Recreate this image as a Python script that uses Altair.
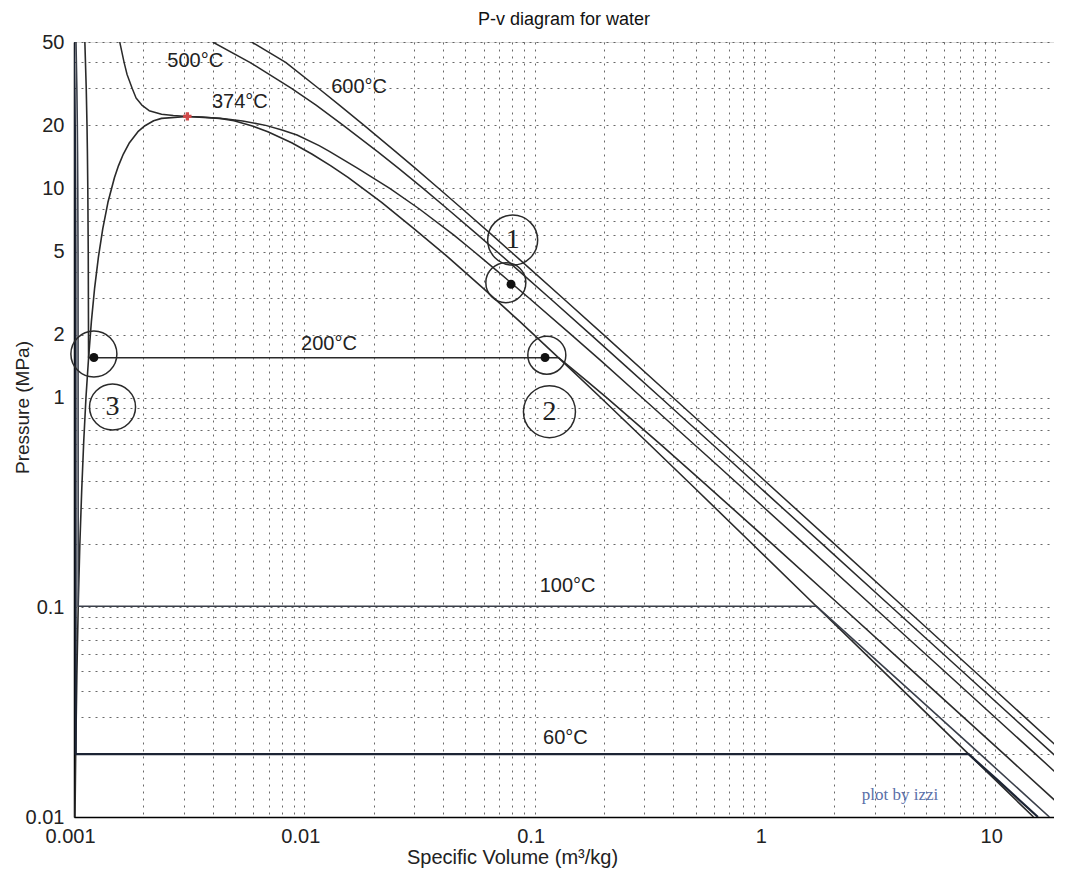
import altair as alt
import pandas as pd

# ---------------- data (steam-table consistent) ----------------
# Saturation dome: pressure (MPa), saturated liquid / vapour specific volume (m3/kg)
sat_T = [45.81, 60, 80, 100, 120, 140, 160, 180, 200, 220, 240, 260, 280, 300,
         320, 330, 340, 350, 360, 365, 370, 372, 373.95]
sat_P = [0.01, 0.019946, 0.047416, 0.10142, 0.19867, 0.36153, 0.61823, 1.0028, 1.5549,
         2.3196, 3.3469, 4.6923, 6.4165, 8.5879, 11.284, 12.858, 14.601, 16.529, 18.666,
         19.8, 21.044, 21.6, 22.064]
sat_vf = [0.00101, 0.001017, 0.001029, 0.001043, 0.00106, 0.00108, 0.001102, 0.001127,
          0.001157, 0.00119, 0.001229, 0.001276, 0.001333, 0.001404, 0.001499, 0.001561,
          0.001638, 0.001741, 0.001895, 0.002016, 0.002217, 0.0024, 0.003106]
sat_vg = [14.67, 7.667, 3.4053, 1.672, 0.89133, 0.50845, 0.30678, 0.19384, 0.12721,
          0.086094, 0.059707, 0.042175, 0.03, 0.021659, 0.01548, 0.012996, 0.010779,
          0.008813, 0.006945, 0.006, 0.004953, 0.0043, 0.003106]

# Isotherms
iso60_P = [50, 30, 20, 15, 10, 5, 0.019946, 0.019946, 0.015, 0.01]
iso60_v = [0.0009962, 0.0010042, 0.0010084, 0.0010105, 0.0010127, 0.0010149, 0.001017,
           7.667, 10.25, 15.33]

iso100_P = [50, 30, 20, 15, 10, 5, 0.10142, 0.10142, 0.05, 0.02, 0.01]
iso100_v = [0.0010201, 0.001029, 0.0010337, 0.0010361, 0.0010385, 0.001041, 0.001043,
            1.672, 3.4187, 8.585, 17.196]

iso200_P = [50, 30, 20, 15, 10, 5, 1.5549, 1.5549, 1.4, 1.2, 1.0, 0.8, 0.6, 0.4, 0.2,
            0.1, 0.05, 0.02, 0.01]
iso200_v = [0.0011146, 0.0011302, 0.0011388, 0.0011433, 0.001148, 0.001153, 0.001157,
            0.12721, 0.14302, 0.1693, 0.206, 0.26088, 0.35212, 0.53434, 1.08049,
            2.17226, 4.3562, 10.9, 21.8]

iso374_P = [50, 40, 35, 30, 27, 25, 23.5, 22.6, 22.3, 22.064, 21.9, 21.5, 21, 20, 19, 18,
            16, 15, 12.5, 10, 8, 6, 5, 4, 3, 2, 1.5, 1, 0.5, 0.2, 0.1, 0.05, 0.02, 0.01]
iso374_v = [0.00158, 0.00165, 0.0017, 0.00179, 0.00186, 0.00197, 0.00212, 0.0024, 0.0027,
            0.003106, 0.0036, 0.0045, 0.0054, 0.0068, 0.008, 0.0093, 0.0116, 0.0129,
            0.017, 0.0235, 0.0315, 0.0445, 0.0545, 0.0695, 0.0945, 0.1445, 0.195, 0.294,
            0.593, 1.488, 2.98, 5.97, 14.93, 29.9]

iso500_P = [50, 40, 30, 25, 20, 15, 12.5, 10, 8, 6, 5, 4, 3, 2, 1.4, 1, 0.5, 0.2, 0.1,
            0.05, 0.02, 0.01]
iso500_v = [0.0040, 0.0058, 0.0088, 0.01125, 0.014768, 0.0208, 0.0256, 0.03279,
            0.04175, 0.05665, 0.06857, 0.08643, 0.11619, 0.17568, 0.2521, 0.3541, 0.7109,
            1.7814, 3.565, 7.134, 17.84, 35.68]

iso600_P = [50, 40, 30, 25, 20, 15, 12.5, 10, 8, 6, 5, 4, 3, 2, 1, 0.5, 0.2, 0.1, 0.05,
            0.02, 0.01]
iso600_v = [0.0059, 0.0083, 0.01155, 0.01420, 0.018185, 0.02491, 0.03029, 0.03837,
            0.04845, 0.06525, 0.07869, 0.09885, 0.13243, 0.1996, 0.4011, 0.8041, 2.013,
            4.028, 8.057, 20.14, 40.29]

# curve labels
lab_text = ["500°C", "600°C", "374°C", "200°C", "100°C", "60°C"]
lab_v = [0.00336, 0.0173, 0.00525, 0.0128, 0.139, 0.136]
lab_P = [40.4, 30.4, 25.8, 1.80, 0.127, 0.0237]

# hand-drawn annotation circles (centre v, P, diameter px)
circ_v = [0.00122, 0.00147, 0.113, 0.116, 0.0803, 0.075]
circ_P = [1.62, 0.905, 1.60, 0.86, 5.67, 3.55]
circ_d = [46, 46, 38, 52, 50, 40]

# hand-drawn dots
dot_v = [0.00122, 0.111, 0.079]
dot_P = [1.56, 1.56, 3.49]

# hand-written numbers
num_text = ["3", "2", "1"]
num_v = [0.00147, 0.116, 0.0803]
num_P = [0.905, 0.86, 5.67]

crit_v = [0.003106]
crit_P = [22.064]

x_label_vals = [0.001, 0.01, 0.1, 1, 10]
y_label_vals = [0.01, 0.1, 1, 2, 5, 10, 20, 50]

# ---------------- tables ----------------
rows = []


def add(name, vs, ps, col, w):
    for i, (v, p) in enumerate(zip(vs, ps)):
        rows.append(dict(series=name, i=i, v=v, P=p, col=col, w=w))


add("dome", sat_vf + sat_vg[::-1][1:], sat_P + sat_P[::-1][1:], "#2a2a2a", 1.6)
add("T60", iso60_v, iso60_P, "#1c2434", 2.2)
add("T100", iso100_v, iso100_P, "#3a3f4a", 1.6)
add("T200", iso200_v, iso200_P, "#2a2a2a", 1.6)
add("T374", iso374_v, iso374_P, "#2a2a2a", 1.5)
add("T500", iso500_v, iso500_P, "#2a2a2a", 1.5)
add("T600", iso600_v, iso600_P, "#2a2a2a", 1.5)
lines_df = pd.DataFrame(rows)

labels_df = pd.DataFrame({"t": lab_text, "v": lab_v, "P": lab_P})
circ_df = pd.DataFrame({"v": circ_v, "P": circ_P, "s": [d * d for d in circ_d]})
dot_df = pd.DataFrame({"v": dot_v, "P": dot_P})
num_df = pd.DataFrame({"t": num_text, "v": num_v, "P": num_P})
crit_df = pd.DataFrame({"v": crit_v, "P": crit_P})
sig_df = pd.DataFrame({"t": ["plot by izzi"], "v": [3.86], "P": [0.0128]})

x_grid = [round(m * 10 ** e, 6) for e in range(-3, 2) for m in range(1, 10)
          if m * 10 ** e <= 18]
y_grid = [round(m * 10 ** e, 6) for e in range(-2, 2) for m in range(1, 10)
          if m * 10 ** e <= 50]

FONT = "Liberation Sans"

X = alt.X(
    "v:Q",
    scale=alt.Scale(type="log", domain=[0.001, 18], nice=False),
    axis=alt.Axis(
        values=x_grid, format="~g",
        labelExpr="indexof(%s, datum.value) >= 0 ? datum.label : ''" % str(x_label_vals),
        title="Specific Volume (m³/kg)", ticks=False, labelOverlap=False,
        labelFlush=False, grid=True, gridDash=[2, 5], gridColor="#444",
        gridOpacity=0.8, labelFont=FONT, labelFontSize=20, labelColor="#222",
        labelPadding=9, labelOffset=-4, titleFont=FONT, titleFontSize=20,
        titleFontWeight="normal", titleColor="#222", titleX=438, titleY=40,
        titleBaseline="middle", titleAlign="center", domainColor="black",
        domainWidth=1.5),
)
Y = alt.Y(
    "P:Q",
    scale=alt.Scale(type="log", domain=[0.01, 50], nice=False),
    axis=alt.Axis(
        values=y_grid, format="~g",
        labelExpr="indexof(%s, datum.value) >= 0 ? datum.label : ''" % str(y_label_vals),
        title="Pressure (MPa)", ticks=False, labelOverlap=False, grid=True,
        gridDash=[2, 5], gridColor="#444", gridOpacity=0.8, labelFont=FONT,
        labelFontSize=20, labelColor="#222", labelPadding=10, titleFont=FONT,
        titleFontSize=19, titleFontWeight="normal", titleColor="#222",
        titleX=-52, titleY=365, titleBaseline="middle", titleAlign="center",
        titleAngle=270, domainColor="black", domainWidth=1.5),
)

lines = alt.Chart(lines_df).mark_line(clip=True, strokeJoin="round").encode(
    x=X, y=Y, detail="series:N", order="i:Q",
    color=alt.Color("col:N", scale=None),
    strokeWidth=alt.StrokeWidth("w:Q", scale=None),
)

labels = alt.Chart(labels_df).mark_text(
    font=FONT, fontSize=20, color="#222", align="center", baseline="middle"
).encode(x=X, y=Y, text="t:N")

circles = alt.Chart(circ_df).mark_point(
    shape="circle", filled=False, color="#2a2a2a", strokeWidth=1.5, opacity=1
).encode(x=X, y=Y, size=alt.Size("s:Q", scale=None))

dots = alt.Chart(dot_df).mark_point(
    shape="circle", filled=True, color="#111", size=80, opacity=1
).encode(x=X, y=Y)

nums = alt.Chart(num_df).mark_text(
    font="Liberation Serif", fontSize=28, color="#222", align="center", baseline="middle"
).encode(x=X, y=Y, text="t:N")

crit = alt.Chart(crit_df).mark_point(
    shape="cross", filled=True, color="#d04a4a", size=70, opacity=1
).encode(x=X, y=Y)

sig = alt.Chart(sig_df).mark_text(
    font="Liberation Serif", fontSize=17, color="#5a70a8", align="center", baseline="middle"
).encode(x=X, y=Y, text="t:N")

chart = alt.layer(lines, labels, circles, dots, nums, crit, sig).properties(
    width=980, height=775,
    title=alt.TitleParams("P-v diagram for water", font=FONT, fontSize=18,
                          fontWeight="normal", color="#111", anchor="middle",
                          frame="group", offset=3),
    autosize=alt.AutoSizeParams(type="none"),
    padding={"left": 66, "top": 34, "right": 0, "bottom": 52},
).configure_view(stroke="black", strokeWidth=1.5).configure(background="white")

chart.save("out.html", embed_options={"renderer": "svg", "actions": False})
